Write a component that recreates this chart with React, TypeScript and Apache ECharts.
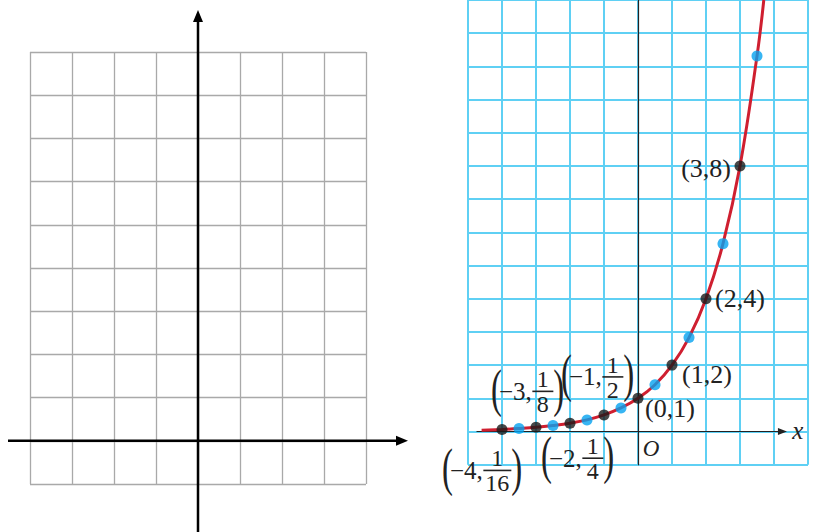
import React, { useEffect, useRef } from "react";
import * as echarts from "echarts";

const SERIF = "'Liberation Serif', 'Times New Roman', serif";
const INK = "#222222";

// y = 2^x, points at whole values of x (black) and half values (blue)
const wholeX = [-4, -3, -2, -1, 0, 1, 2, 3];
const wholeY = [1 / 16, 1 / 8, 1 / 4, 1 / 2, 1, 2, 4, 8];
const halfX = [-3.5, -2.5, -1.5, -0.5, 0.5, 1.5, 2.5, 3.5];
const halfY = [0.09, 0.18, 0.35, 0.71, 1.41, 2.83, 5.66, 11.31];
// where the drawn curve begins and leaves the top of the page
const curveStart = [-4.6, 0.04];
const curveEnd = [3.7, 13];

// coordinate labels written as plain text
const plainText = ["(0,1)", "(1,2)", "(2,4)", "(3,8)"];
const plainAt = [0, 1, 2, 3];
// coordinate labels with a fraction
const fracWhole = ["\u22124,", "\u22123,", "\u22122,", "\u22121,"];
const fracNum = ["1", "1", "1", "1"];
const fracDen = ["16", "8", "4", "2"];
const fracAt = [-4, -3, -2, -1];

// empty grid on the left
const blankX = [-4, 4];
const blankY = [-1, 9];
// graph paper on the right
const paperX = [-5, 5];
const paperY = [-1, 13];

const measureCanvas = document.createElement("canvas").getContext("2d");
function textWidth(t: string, size: number) {
  if (!measureCanvas) return t.length * size * 0.5;
  measureCanvas.font = `${size}px ${SERIF}`;
  return measureCanvas.measureText(t).width;
}

function yOf(x: number) {
  const i = wholeX.indexOf(x);
  return wholeY[i];
}

export default function App() {
  const ref = useRef<HTMLDivElement>(null);

  useEffect(() => {
    if (!ref.current) return;
    const chart = echarts.init(ref.current, null, { renderer: "svg" });

    const curve = [
      curveStart,
      ...wholeX.map((x, i) => [x, wholeY[i]]),
      ...halfX.map((x, i) => [x, halfY[i]]),
      curveEnd,
    ].sort((a, b) => a[0] - b[0]);

    const hiddenAxisParts = {
      axisLabel: { show: false },
      axisTick: { show: false },
    };

    chart.setOption({
      animation: false,
      backgroundColor: "#ffffff",
      grid: [
        { left: 30, top: 52, width: 336, height: 432 },
        { left: 468, top: 464.7 - 14 * 33.7, width: 340, height: 14 * 33.7 },
      ],
      xAxis: [
        {
          type: "value",
          gridIndex: 0,
          min: blankX[0],
          max: blankX[1],
          interval: 1,
          axisLine: { show: false },
          splitLine: { lineStyle: { color: "#a9a9a9", width: 1.3 } },
          ...hiddenAxisParts,
        },
        {
          type: "value",
          gridIndex: 1,
          min: paperX[0],
          max: paperX[1],
          interval: 1,
          axisLine: { show: false },
          splitLine: { lineStyle: { color: "#5fd0f4", width: 2 } },
          ...hiddenAxisParts,
        },
      ],
      yAxis: [
        {
          type: "value",
          gridIndex: 0,
          min: blankY[0],
          max: blankY[1],
          interval: 1,
          axisLine: { show: false },
          splitLine: { lineStyle: { color: "#a9a9a9", width: 1.3 } },
          ...hiddenAxisParts,
        },
        {
          type: "value",
          gridIndex: 1,
          min: paperY[0],
          max: paperY[1],
          interval: 1,
          axisLine: { show: true, onZero: true, lineStyle: { color: "#222", width: 1.2 } },
          splitLine: { lineStyle: { color: "#5fd0f4", width: 2 } },
          ...hiddenAxisParts,
        },
      ],
      series: [
        {
          type: "line",
          xAxisIndex: 1,
          yAxisIndex: 1,
          data: curve,
          smooth: 0.4,
          showSymbol: false,
          lineStyle: { color: "#cf1f30", width: 3 },
          z: 3,
        },
        {
          type: "scatter",
          xAxisIndex: 1,
          yAxisIndex: 1,
          data: halfX.map((x, i) => [x, halfY[i]]),
          symbolSize: 11,
          itemStyle: { color: "#05a2f0" },
          z: 4,
        },
        {
          type: "scatter",
          xAxisIndex: 1,
          yAxisIndex: 1,
          data: wholeX.map((x, i) => [x, wholeY[i]]),
          symbolSize: 11,
          itemStyle: { color: "#1a1a1a" },
          z: 5,
        },
      ],
    });

    const p0 = (pt: number[]) => chart.convertToPixel({ gridIndex: 0 }, pt) as number[];
    const p1 = (pt: number[]) => chart.convertToPixel({ gridIndex: 1 }, pt) as number[];

    const graphic: any[] = [];

    // bold axes of the empty grid, running past its edges
    const o0 = p0([0, 0]);
    const bx0 = 8;
    const bx1 = 408;
    const by0 = 10;
    const by1 = 532;
    graphic.push(
      { type: "line", shape: { x1: bx0, y1: o0[1], x2: bx1 - 8, y2: o0[1] }, style: { stroke: "#000", lineWidth: 2.5 } },
      { type: "polygon", shape: { points: [[bx1, o0[1]], [bx1 - 12, o0[1] - 5], [bx1 - 12, o0[1] + 5]] }, style: { fill: "#000" } },
      { type: "line", shape: { x1: o0[0], y1: by1, x2: o0[0], y2: by0 + 8 }, style: { stroke: "#000", lineWidth: 2.5 } },
      { type: "polygon", shape: { points: [[o0[0], by0], [o0[0] - 5, by0 + 12], [o0[0] + 5, by0 + 12]] }, style: { fill: "#000" } }
    );

    // x axis of the graph paper
    const o1 = p1([0, 0]);
    const ax0 = p1([-4.75, 0])[0];
    const ax1 = p1([4.38, 0])[0];
    graphic.push(
      { type: "line", shape: { x1: ax0, y1: o1[1], x2: ax1 - 6, y2: o1[1] }, style: { stroke: "#222", lineWidth: 1.2 }, z: 2 },
      { type: "polygon", shape: { points: [[ax1, o1[1]], [ax1 - 9, o1[1] - 3.5], [ax1 - 9, o1[1] + 3.5]] }, style: { fill: "#222" }, z: 2 },
      { type: "text", x: ax1 + 11, y: o1[1] - 1, style: { text: "x", font: `italic 25px ${SERIF}`, fill: INK, align: "center", verticalAlign: "middle" }, z: 2 },
      { type: "text", x: o1[0] + 13, y: o1[1] + 17, style: { text: "O", font: `italic 23px ${SERIF}`, fill: INK, align: "center", verticalAlign: "middle" }, z: 2 }
    );

    // plain coordinate labels
    const plainOffset = [
      [7, 10, "left"],
      [10, 9, "left"],
      [9, 0, "left"],
      [-9, 3, "right"],
    ];
    plainText.forEach((t, i) => {
      const x = plainAt[i];
      const pt = p1([x, yOf(x)]);
      const [dx, dy, align] = plainOffset[i] as [number, number, string];
      graphic.push({
        type: "text",
        x: pt[0] + dx,
        y: pt[1] + dy,
        z: 6,
        style: { text: t, font: `26px ${SERIF}`, fill: INK, align, verticalAlign: "middle" },
      });
    });

    // fraction coordinate labels: ( whole, num/den )
    const fracOffset = [
      [-59, 41],
      [-44, -36],
      [-28, 35],
      [-42, -38],
    ];
    fracWhole.forEach((w, i) => {
      const x = fracAt[i];
      const pt = p1([x, yOf(x)]);
      const left = pt[0] + fracOffset[i][0];
      const yc = pt[1] + fracOffset[i][1];
      const wW = textWidth(w, 25);
      const fw = Math.max(Math.max(textWidth(fracNum[i], 24), textWidth(fracDen[i], 24)) + 4, 21);
      const barL = left + 7 + wW + 0.5;
      const barR = barL + fw;
      const paren = (ch: string, px: number) => ({
        type: "text",
        x: px,
        y: yc - 3,
        scaleX: 0.62,
        style: { text: ch, font: `53px ${SERIF}`, fill: INK, align: "left", verticalAlign: "middle" },
      });
      graphic.push({
        type: "group",
        z: 6,
        children: [
          paren("(", left - 1),
          { type: "text", x: left + 7, y: yc, style: { text: w, font: `25px ${SERIF}`, fill: INK, align: "left", verticalAlign: "middle" } },
          { type: "line", shape: { x1: barL, y1: yc, x2: barR, y2: yc }, style: { stroke: INK, lineWidth: 1.6 } },
          { type: "text", x: (barL + barR) / 2, y: yc - 12, style: { text: fracNum[i], font: `24px ${SERIF}`, fill: INK, align: "center", verticalAlign: "middle" } },
          { type: "text", x: (barL + barR) / 2, y: yc + 13, style: { text: fracDen[i], font: `24px ${SERIF}`, fill: INK, align: "center", verticalAlign: "middle" } },
          paren(")", barR),
        ],
      });
    });

    chart.setOption({ graphic });

    return () => chart.dispose();
  }, []);

  return (
    <div
      ref={ref}
      style={{ position: "fixed", left: 0, top: 0, width: 821, height: 532, background: "#fff" }}
    />
  );
}
